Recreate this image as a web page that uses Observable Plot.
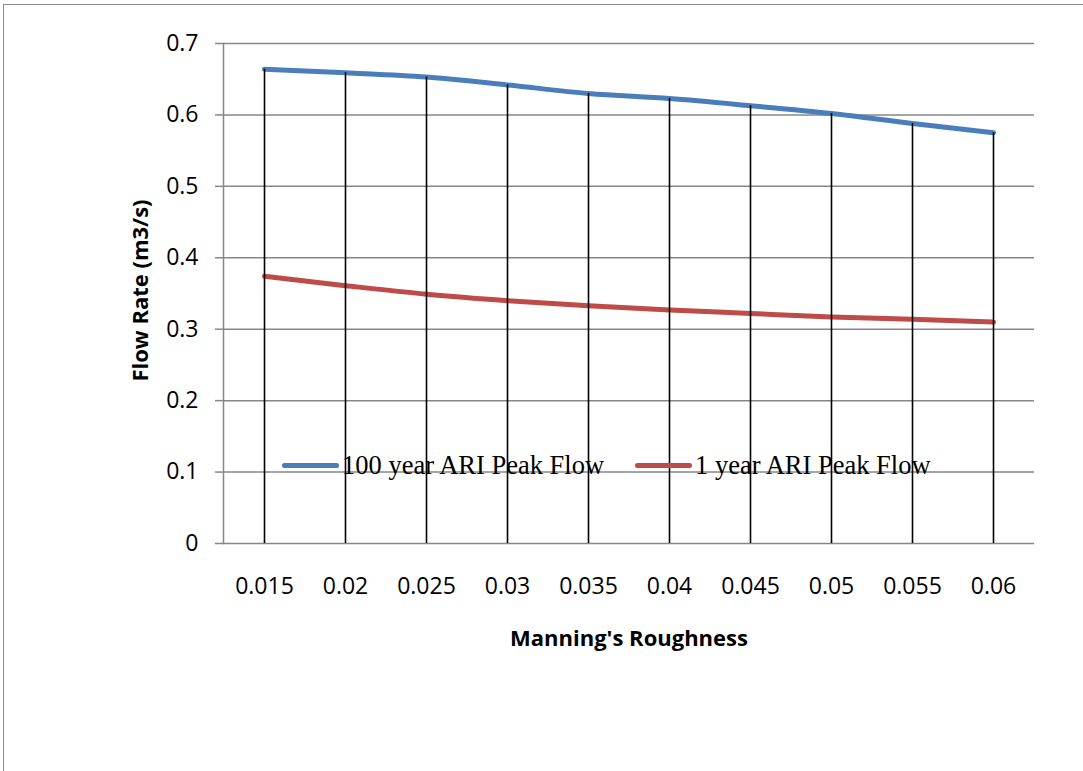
<!DOCTYPE html>
<html>
<head>
<meta charset="utf-8">
<script src="https://cdn.jsdelivr.net/npm/d3@7"></script>
<script src="https://cdn.jsdelivr.net/npm/@observablehq/plot@0.6"></script>
<style>
  html, body { margin: 0; padding: 0; background: #fff; }
  #wrap { position: relative; width: 1083px; height: 771px; overflow: hidden; }
  #border { position: absolute; left: 3px; top: 4px; right: -5px; bottom: -5px;
            border-left: 1.5px solid #8a8a8a; border-top: 1.5px solid #8a8a8a; pointer-events: none; }
  #legend { position: absolute; left: 282px; top: 450px; font-family: "Liberation Serif", "Times New Roman", serif;
            font-size: 26.5px; color: #000; white-space: nowrap; display: flex; align-items: center; }
  .sw { display: inline-block; width: 57px; height: 5px; border-radius: 3px; margin-right: 3px; }
  .item { display: inline-flex; align-items: center; }
</style>
</head>
<body>
<div id="wrap">
  <div id="chart"></div>
  <div id="border"></div>
  <div id="legend"></div>
</div>
<script>
const roughness = ["0.015", "0.02", "0.025", "0.03", "0.035", "0.04", "0.045", "0.05", "0.055", "0.06"];
const flow100 = [0.664, 0.659, 0.653, 0.642, 0.630, 0.623, 0.613, 0.602, 0.588, 0.575];
const flow1 = [0.374, 0.361, 0.349, 0.340, 0.333, 0.327, 0.322, 0.317, 0.314, 0.310];
const seriesNames = ["100 year ARI Peak Flow", "1 year ARI Peak Flow"];
const seriesColors = ["#4a7ebb", "#be4b48"];
const yTicks = [0, 0.1, 0.2, 0.3, 0.4, 0.5, 0.6, 0.7];
const yTickLabels = ["0", "0.1", "0.2", "0.3", "0.4", "0.5", "0.6", "0.7"];
const xTitle = "Manning's Roughness";
const yTitle = "Flow Rate (m3/s)";

const data100 = roughness.map((r, i) => ({r, v: flow100[i]}));
const data1 = roughness.map((r, i) => ({r, v: flow1[i]}));

const font = "'Open Sans', 'Liberation Sans', sans-serif";

const chart = Plot.plot({
  width: 1083,
  height: 771,
  marginLeft: 223,
  marginRight: 49,
  marginTop: 43,
  marginBottom: 228,
  style: {fontFamily: font, fontSize: "23px", color: "#000", background: "transparent"},
  x: {type: "point", domain: roughness, padding: 0.5},
  y: {domain: [0, 0.7]},
  marks: [
    Plot.ruleY(yTicks, {stroke: "#878787", strokeWidth: 1.5}),
    Plot.frame({anchor: "left", stroke: "#878787", strokeWidth: 1.5}),
    Plot.axisY({ticks: yTicks, tickFormat: (d, i) => yTickLabels[yTicks.indexOf(d)], tickSize: 8, tickPadding: 17, stroke: "#878787", strokeWidth: 1.5, label: null, fontSize: 23}),
    Plot.axisX({tickSize: 0, tickPadding: 34, label: null, fontSize: 23}),
    Plot.line(data100, {x: "r", y: "v", stroke: seriesColors[0], strokeWidth: 5, curve: "monotone-x"}),
    Plot.line(data1, {x: "r", y: "v", stroke: seriesColors[1], strokeWidth: 5, curve: "monotone-x"}),
    Plot.ruleX(data100, {x: "r", y1: 0, y2: "v", stroke: "#000", strokeWidth: 1.6}),
    Plot.text([xTitle], {text: d => d, frameAnchor: "bottom", textAnchor: "middle", lineAnchor: "middle", dy: 95, fontWeight: "bold", fontSize: 22}),
    Plot.text([yTitle], {text: d => d, frameAnchor: "left", textAnchor: "middle", lineAnchor: "middle", dx: -83, dy: -3, rotate: -90, fontWeight: "bold", fontSize: 22})
  ]
});
document.getElementById("chart").appendChild(chart);

const legend = document.getElementById("legend");
seriesNames.forEach((name, i) => {
  const item = document.createElement("span");
  item.className = "item";
  if (i > 0) item.style.marginLeft = "31px";
  const sw = document.createElement("span");
  sw.className = "sw";
  sw.style.background = seriesColors[i];
  item.appendChild(sw);
  item.appendChild(document.createTextNode(name));
  legend.appendChild(item);
});
</script>
</body>
</html>
